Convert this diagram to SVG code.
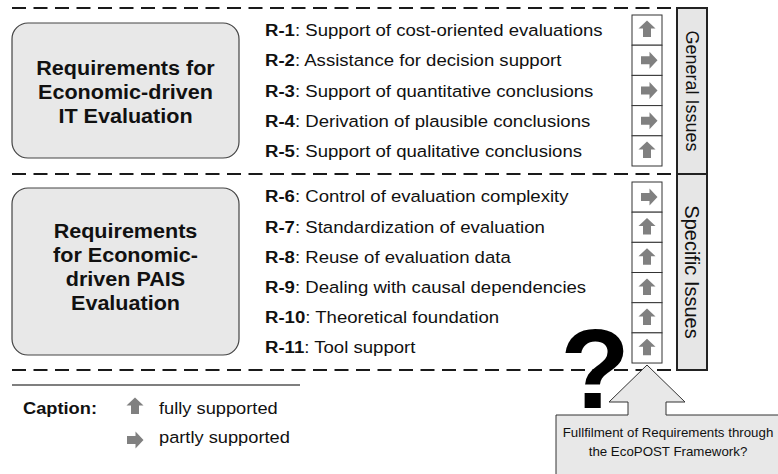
<svg xmlns="http://www.w3.org/2000/svg" width="778" height="474" viewBox="0 0 778 474">
<style>
.dash{stroke:#1a1a1a;stroke-width:2;stroke-dasharray:14 7.5;fill:none}
.req{fill:#e8e8e8;stroke:#444;stroke-width:1.2}
.title{font-family:"Liberation Sans",Arial,sans-serif;font-weight:bold;font-size:19.6px;fill:#111;text-anchor:middle}
.rt{font-family:"Liberation Sans",Arial,sans-serif;font-size:16.6px;fill:#111}
.rt tspan.b{font-weight:bold}
.cell{fill:#fff;stroke:#333;stroke-width:1}
.side{fill:#e6e6e6;stroke:#222;stroke-width:2}
.vt{font-family:"Liberation Sans",Arial,sans-serif;fill:#111;text-anchor:middle}
.ic{fill:#808080}
.cap{font-family:"Liberation Sans",Arial,sans-serif;font-size:16.6px;fill:#111}
.call{fill:#e8e8e8;stroke:#333;stroke-width:1}
.ct{font-family:"Liberation Sans",Arial,sans-serif;font-size:12.1px;fill:#111;text-anchor:middle}
</style>
<defs>
<path id="up" d="M0,-8.5 L8.5,-0.5 L4,-0.5 L4,8 L-4,8 L-4,-0.5 L-8.5,-0.5 Z"/>
<path id="right" d="M8.5,0 L0.5,8.5 L0.5,4 L-8,4 L-8,-4 L0.5,-4 L0.5,-8.5 Z"/>
</defs>

<g id="separators">
<line class="dash" x1="12" y1="8" x2="672" y2="8"/>
<line class="dash" x1="12" y1="174" x2="672" y2="174"/>
<line class="dash" x1="12" y1="370" x2="672" y2="370"/>
</g>

<g id="node-it">
<rect class="req" x="12" y="23" width="227" height="135" rx="16"/>
<g transform="translate(125.5,0) scale(1.1,1)">
<text class="title" x="0" y="75">Requirements for</text>
<text class="title" x="0" y="99">Economic-driven</text>
<text class="title" x="0" y="123">IT Evaluation</text>
</g>
</g>

<g id="node-pais">
<rect class="req" x="12" y="188" width="227" height="167" rx="16"/>
<g transform="translate(125.5,0) scale(1.1,1)">
<text class="title" x="0" y="238">Requirements</text>
<text class="title" x="0" y="262">for Economic-</text>
<text class="title" x="0" y="286">driven PAIS</text>
<text class="title" x="0" y="310">Evaluation</text>
</g>
</g>

<g id="requirements" transform="translate(265,0) scale(1.12,1)">
<text class="rt" x="0" y="36"><tspan class="b">R-1</tspan>: Support of cost-oriented evaluations</text>
<text class="rt" x="0" y="66.3"><tspan class="b">R-2</tspan>: Assistance for decision support</text>
<text class="rt" x="0" y="96.6"><tspan class="b">R-3</tspan>: Support of quantitative conclusions</text>
<text class="rt" x="0" y="126.9"><tspan class="b">R-4</tspan>: Derivation of plausible conclusions</text>
<text class="rt" x="0" y="157.2"><tspan class="b">R-5</tspan>: Support of qualitative conclusions</text>
<text class="rt" x="0" y="202.5"><tspan class="b">R-6</tspan>: Control of evaluation complexity</text>
<text class="rt" x="0" y="232.7"><tspan class="b">R-7</tspan>: Standardization of evaluation</text>
<text class="rt" x="0" y="262.9"><tspan class="b">R-8</tspan>: Reuse of evaluation data</text>
<text class="rt" x="0" y="293.1"><tspan class="b">R-9</tspan>: Dealing with causal dependencies</text>
<text class="rt" x="0" y="323.3"><tspan class="b">R-10</tspan>: Theoretical foundation</text>
<text class="rt" x="0" y="353.5"><tspan class="b">R-11</tspan>: Tool support</text>
</g>

<g id="status-general">
<rect class="cell" x="632" y="15" width="30" height="30.2"/>
<rect class="cell" x="632" y="45.2" width="30" height="30.2"/>
<rect class="cell" x="632" y="75.4" width="30" height="30.2"/>
<rect class="cell" x="632" y="105.6" width="30" height="30.2"/>
<rect class="cell" x="632" y="135.8" width="30" height="30.2"/>
<use href="#up" class="ic" x="647" y="29"/>
<use href="#right" class="ic" x="649" y="60.3"/>
<use href="#right" class="ic" x="649" y="90.5"/>
<use href="#right" class="ic" x="649" y="120.7"/>
<use href="#up" class="ic" x="647" y="150"/>
</g>

<g id="status-specific">
<rect class="cell" x="632" y="182" width="30" height="30.17"/>
<rect class="cell" x="632" y="212.17" width="30" height="30.17"/>
<rect class="cell" x="632" y="242.34" width="30" height="30.17"/>
<rect class="cell" x="632" y="272.51" width="30" height="30.17"/>
<rect class="cell" x="632" y="302.68" width="30" height="30.17"/>
<rect class="cell" x="632" y="332.85" width="30" height="30.17"/>
<use href="#right" class="ic" x="649" y="197"/>
<use href="#up" class="ic" x="647" y="226.5"/>
<use href="#up" class="ic" x="647" y="256.7"/>
<use href="#up" class="ic" x="647" y="286.9"/>
<use href="#up" class="ic" x="647" y="317"/>
<use href="#up" class="ic" x="647" y="347.2"/>
</g>

<g id="general-issues">
<rect class="side" x="677" y="8" width="30" height="166"/>
<text class="vt" font-size="18" transform="translate(686,91) rotate(90)">General Issues</text>
</g>
<g id="specific-issues">
<rect class="side" x="677" y="174" width="30" height="196"/>
<text class="vt" font-size="20" transform="translate(685,272) rotate(90)">Specific Issues</text>
</g>

<g id="caption">
<line x1="12" y1="385" x2="300" y2="385" stroke="#555" stroke-width="1.5"/>
<g transform="translate(23,0) scale(1.1,1)"><text class="cap" x="0" y="414" font-weight="bold">Caption:</text></g>
<use href="#up" class="ic" x="135" y="406"/>
<use href="#right" class="ic" x="135" y="440"/>
<g transform="translate(159,0) scale(1.1,1)">
<text class="cap" x="0" y="414">fully supported</text>
<text class="cap" x="0" y="443">partly supported</text>
</g>
</g>

<g id="question">
<text x="595" y="408" font-family="'Liberation Sans',Arial,sans-serif" font-weight="bold" font-size="114" fill="#000" text-anchor="middle">?</text>
</g>

<g id="callout">
<path class="call" d="M556,415 L628,415 L628,402 L609,402 L647,365 L685,402 L666,402 L666,415 L790,415 L790,480 L556,480 Z"/>
<g transform="translate(668,0) scale(1.1,1)">
<text class="ct" x="0" y="437">Fullfilment of Requirements through</text>
<text class="ct" x="0" y="456">the EcoPOST Framework?</text>
</g>
</g>
</svg>
